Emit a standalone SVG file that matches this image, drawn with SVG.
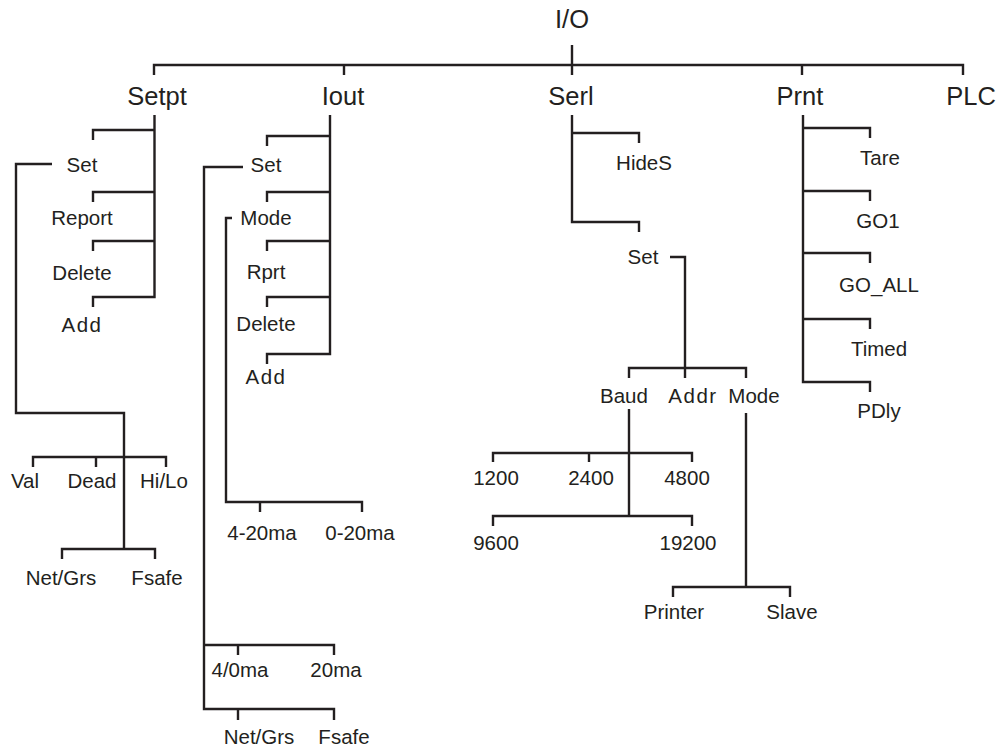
<svg xmlns="http://www.w3.org/2000/svg" width="998" height="748" viewBox="0 0 998 748">
<style>
text{font-family:"Liberation Sans",Arial,sans-serif;fill:#231f20;text-anchor:middle}
.l1{font-size:25.5px}
.l2{font-size:20.5px}
.sp{letter-spacing:1.5px}
#connectors path{fill:none;stroke:#231f20;stroke-width:2.4;stroke-linejoin:miter;stroke-linecap:butt}
</style>
<rect width="998" height="748" fill="#fff"/>
<g id="connectors">
<path d="M572,45V65M154,75V65H963V75M344,65V75M572,65V75M802,65V75"/>
<path d="M154.5,115V297H93V307M154.5,130H93V140M154.5,192H93V202M154.5,241H93V251"/>
<path d="M52,164H16V413H124V549M33,467V457H166V467M96,457V467"/>
<path d="M62,559V549H155V559"/>
<path d="M330,115V354H267V364M330,136H267V146M330,192H267V202M330,241H267V251M330,297H267V307"/>
<path d="M243,167H204V709H334V720M238,709V720M204,645H334V655M238,645V655"/>
<path d="M232,218H226V502H362V512M260,502V512"/>
<path d="M572,115V222H639V232M572,133H639V143"/>
<path d="M670,257H685V368M629,378V368H746V378M685,368V378"/>
<path d="M629,409V516M493,462V453H692V462M589,453V462M493,526V516H692V526"/>
<path d="M746,413V587M673,597V587H790V597"/>
<path d="M803,115V382H870V392M803,128H870V138M803,191H870V201M803,253H870V263M803,319H870V329"/>
</g>
<g id="n-io"><text class="l1" x="572" y="28">I/O</text></g>
<g id="n-setpt"><text class="l1" x="157" y="105">Setpt</text></g>
<g id="n-iout"><text class="l1" x="343" y="105">Iout</text></g>
<g id="n-serl"><text class="l1" x="571" y="105">Serl</text></g>
<g id="n-prnt"><text class="l1" x="800" y="105">Prnt</text></g>
<g id="n-plc"><text class="l1" x="971" y="105">PLC</text></g>
<g id="n-setpt-set"><text class="l2" x="82" y="172">Set</text></g>
<g id="n-setpt-report"><text class="l2" x="82" y="225">Report</text></g>
<g id="n-setpt-delete"><text class="l2" x="82" y="280">Delete</text></g>
<g id="n-setpt-add"><text class="l2 sp" x="82" y="332">Add</text></g>
<g id="n-val"><text class="l2" x="25" y="488">Val</text></g>
<g id="n-dead"><text class="l2" x="92" y="488">Dead</text></g>
<g id="n-hilo"><text class="l2" x="164" y="488">Hi/Lo</text></g>
<g id="n-netgrs1"><text class="l2" x="61" y="585">Net/Grs</text></g>
<g id="n-fsafe1"><text class="l2" x="157" y="585">Fsafe</text></g>
<g id="n-iout-set"><text class="l2" x="266" y="172">Set</text></g>
<g id="n-iout-mode"><text class="l2" x="266" y="225">Mode</text></g>
<g id="n-iout-rprt"><text class="l2" x="266" y="279">Rprt</text></g>
<g id="n-iout-delete"><text class="l2" x="266" y="331">Delete</text></g>
<g id="n-iout-add"><text class="l2 sp" x="266" y="384">Add</text></g>
<g id="n-420"><text class="l2" x="262" y="540">4-20ma</text></g>
<g id="n-020"><text class="l2" x="360" y="540">0-20ma</text></g>
<g id="n-40ma"><text class="l2" x="240" y="677">4/0ma</text></g>
<g id="n-20ma"><text class="l2" x="336" y="677">20ma</text></g>
<g id="n-netgrs2"><text class="l2" x="259" y="744">Net/Grs</text></g>
<g id="n-fsafe2"><text class="l2" x="344" y="744">Fsafe</text></g>
<g id="n-hides"><text class="l2" x="644" y="170">HideS</text></g>
<g id="n-serl-set"><text class="l2" x="643" y="264">Set</text></g>
<g id="n-baud"><text class="l2" x="624" y="403">Baud</text></g>
<g id="n-addr"><text class="l2 sp" x="693" y="403">Addr</text></g>
<g id="n-serl-mode"><text class="l2" x="754" y="403">Mode</text></g>
<g id="n-1200"><text class="l2" x="496" y="485">1200</text></g>
<g id="n-2400"><text class="l2" x="591" y="485">2400</text></g>
<g id="n-4800"><text class="l2" x="687" y="485">4800</text></g>
<g id="n-9600"><text class="l2" x="496" y="550">9600</text></g>
<g id="n-19200"><text class="l2" x="688" y="550">19200</text></g>
<g id="n-printer"><text class="l2" x="674" y="619">Printer</text></g>
<g id="n-slave"><text class="l2" x="792" y="619">Slave</text></g>
<g id="n-tare"><text class="l2" x="880" y="165">Tare</text></g>
<g id="n-go1"><text class="l2" x="878" y="228">GO1</text></g>
<g id="n-goall"><text class="l2" x="879" y="292">GO_ALL</text></g>
<g id="n-timed"><text class="l2" x="879" y="356">Timed</text></g>
<g id="n-pdly"><text class="l2" x="879" y="418">PDly</text></g>
</svg>
